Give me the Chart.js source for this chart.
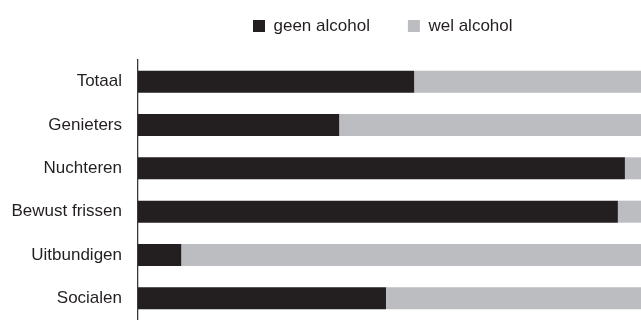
<!DOCTYPE html>
<html lang="nl">
<head>
    <meta charset="UTF-8">
    <title>Alcohol per segment</title>
    <script src="https://cdn.jsdelivr.net/npm/chart.js"></script>
    <style>
        html, body {
            margin: 0;
            padding: 0;
            background: #ffffff;
        }
        .chart-box {
            position: relative;
            width: 641px;
            height: 320px;
        }
    </style>
</head>
<body>
    <div class="chart-box">
        <canvas id="chart" width="641" height="320"></canvas>
    </div>

    <script>
        const segments = ['Totaal', 'Genieters', 'Nuchteren', 'Bewust frissen', 'Uitbundigen', 'Socialen'];
        const geenAlcohol = [54.9, 40, 96.8, 95.4, 8.6, 49.3];
        const welAlcohol = [45.1, 60, 3.2, 4.6, 91.4, 50.7];

        const dark = '#231f20';
        const grey = '#bcbdc0';

        // move the legend to where the original has it
        const legendSpot = {
            id: 'legendSpot',
            afterLayout(chart) {
                const lg = chart.legend;
                if (!lg) return;
                lg.left = 253 - 38;
                lg.top = -20.5;
            }
        };

        new Chart(document.getElementById('chart'), {
            type: 'bar',
            data: {
                labels: segments,
                datasets: [
                    {
                        label: 'geen alcohol',
                        data: geenAlcohol,
                        backgroundColor: dark,
                        barPercentage: 0.508,
                        categoryPercentage: 1
                    },
                    {
                        label: 'wel alcohol',
                        data: welAlcohol,
                        backgroundColor: grey,
                        barPercentage: 0.508,
                        categoryPercentage: 1
                    }
                ]
            },
            options: {
                indexAxis: 'y',
                responsive: false,
                animation: false,
                layout: {
                    padding: { top: -5, bottom: 0, left: 0, right: 0 }
                },
                scales: {
                    x: {
                        stacked: true,
                        min: 0,
                        max: 100,
                        display: false
                    },
                    y: {
                        stacked: true,
                        afterFit: s => {
                            s.width = 138;
                            s.paddingTop = 0;
                            s.paddingBottom = 0;
                        },
                        grid: { display: false, drawTicks: false },
                        border: { display: true, color: '#3a3a3a', width: 1.3 },
                        ticks: {
                            color: dark,
                            padding: 16,
                            font: { family: 'Liberation Sans', size: 17 }
                        }
                    }
                },
                plugins: {
                    legend: {
                        position: 'top',
                        align: 'start',
                        labels: {
                            boxWidth: 12,
                            boxHeight: 12,
                            padding: 38,
                            color: dark,
                            font: { family: 'Liberation Sans', size: 17 }
                        }
                    },
                    tooltip: { enabled: false }
                }
            },
            plugins: [legendSpot]
        });
    </script>
</body>
</html>
